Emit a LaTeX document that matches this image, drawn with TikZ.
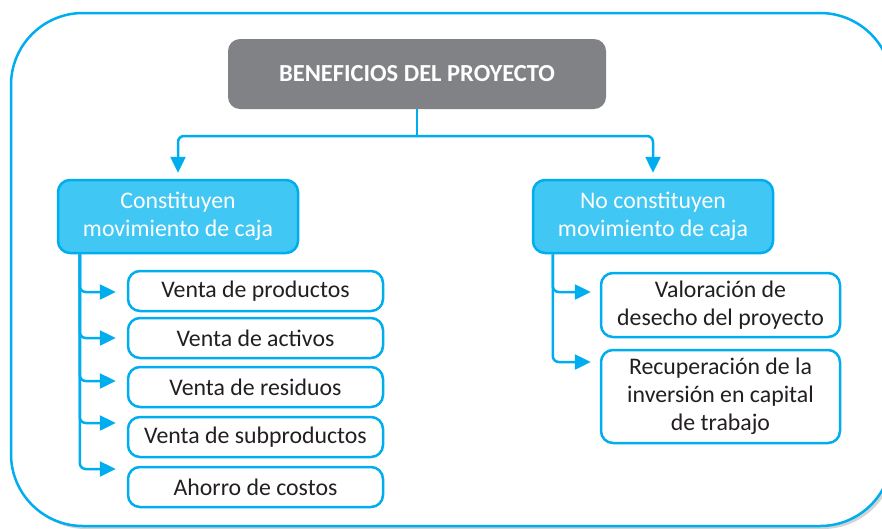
\documentclass[tikz,border=0pt]{standalone}
\usepackage{fontspec}
\setmainfont{Carlito}
\usetikzlibrary{positioning,calc,arrows.meta,shadows}

\definecolor{cyanline}{HTML}{00AEEF}
\definecolor{cyanfill}{HTML}{40C7F4}
\definecolor{titlegray}{HTML}{808285}
\definecolor{textdark}{HTML}{231F20}

\begin{document}
\begin{tikzpicture}[
		x=1pt, y=-1pt,
		frame/.style={draw=cyanline, line width=2.5pt, rounded corners=72pt, fill=white,
			drop shadow={opacity=0.35, shadow xshift=3pt, shadow yshift=-3pt}},
		title/.style={fill=titlegray, rounded corners=12pt, minimum width=378pt, minimum height=70pt,
			text=white, font=\fontsize{24.5}{29}\selectfont\bfseries, align=center},
		group/.style={draw=cyanline, fill=cyanfill, line width=2.5pt, rounded corners=12pt,
			minimum width=240pt, minimum height=73pt, text=white,
			font=\fontsize{23.8}{28}\selectfont, align=center, inner sep=0pt},
		item/.style={draw=cyanline, fill=white, line width=2.5pt, rounded corners=12pt,
			minimum width=255pt, minimum height=40pt, text=textdark,
			font=\fontsize{23.8}{28}\selectfont, align=center, inner sep=0pt},
		line/.style={-{Triangle[length=16pt,width=15pt]}, draw=cyanline, line width=2.5pt,
			rounded corners=6pt}
		]
		
		\clip (0,0) rectangle (882,528);
		
		% ======================
		% Frame
		% ======================
		\path[frame] (11,13) rectangle (892,526);
		
		% ======================
		% Title
		% ======================
		\node[title] (ben) at (417,74) {BENEFICIOS DEL PROYECTO};
		
		% ======================
		% SECOND LEVEL
		% ======================
		\node[group] (mov) at (178,216.5) {Constituyen\\movimiento de caja};
		
		\node[group] (nomov) at (653,216.5) {No constituyen\\movimiento de caja};
		
		% ======================
		% LEFT SIDE
		% ======================
		\node[item] (prod) at (255.5,291) {Venta de productos};
		
		\node[item] (act) at (255.5,338) {Venta de activos};
		
		\node[item] (res) at (255.5,387) {Venta de residuos};
		
		\node[item] (subp) at (255.5,437) {Venta de subproductos};
		
		\node[item] (aho) at (255.5,487) {Ahorro de costos};
		
		% ======================
		% RIGHT SIDE
		% ======================
		\node[item, minimum width=239pt, minimum height=64pt] (val) at (720.5,305) {Valoración de\\desecho del proyecto};
		
		\node[item, minimum width=239pt, minimum height=93pt] (rec) at (720.5,396.5) {Recuperación de la\\inversión en capital\\de trabajo};
		
		% ======================
		% CONNECTIONS
		% ======================
		\coordinate (split) at (ben.south |- 0,136);
		\draw[line, -] (ben.south) -- (split);
		\draw[line, shorten >=6pt] (split) -| (mov.north);
		\draw[line, shorten >=6pt] (split) -| (nomov.north);
		
		\coordinate (ltop) at ([xshift=23pt]mov.south west);
		\draw[line] (ltop) |- ([xshift=-11pt, yshift=-1pt]prod.west);
		\draw[line] (ltop) |- ([xshift=-11pt]act.west);
		\draw[line] (ltop) |- ([xshift=-11pt, yshift=6pt]res.west);
		\draw[line] (ltop) |- ([xshift=-11pt, yshift=14pt]subp.west);
		\draw[line] (ltop) |- ([xshift=-11pt, yshift=18pt]aho.west);
		
		\coordinate (rtop) at ([xshift=21pt]nomov.south west);
		\draw[line] (rtop) |- ([xshift=-9pt, yshift=13pt]val.west);
		\draw[line] (rtop) |- ([xshift=-9pt, yshift=34.5pt]rec.west);
		
	\end{tikzpicture}
\end{document}
